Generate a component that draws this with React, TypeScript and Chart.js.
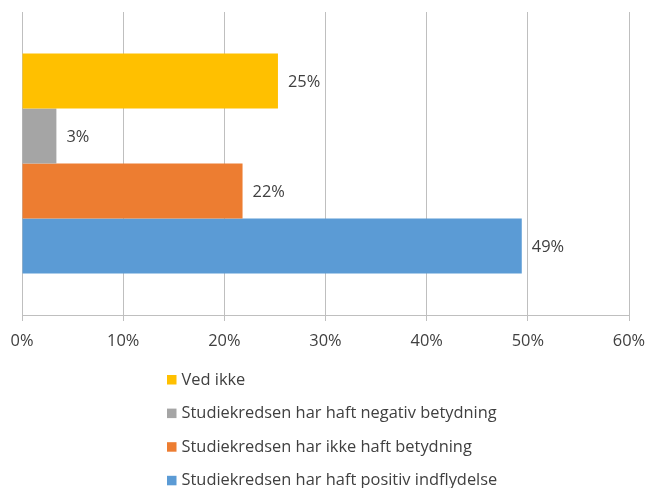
import React, { useEffect, useRef } from "react";
import { Chart, registerables } from "chart.js";

Chart.register(...registerables);

const categories = [""];
const seriesNames = [
  "Ved ikke",
  "Studiekredsen har haft negativ betydning",
  "Studiekredsen har ikke haft betydning",
  "Studiekredsen har haft positiv indflydelse",
];
const seriesValues = [25.3, 3.4, 21.8, 49.4];
const seriesLabels = ["25%", "3%", "22%", "49%"];
const seriesColors = ["#FFC000", "#A5A5A5", "#ED7D31", "#5B9BD5"];
const xTicks = [0, 10, 20, 30, 40, 50, 60];

const FONT = "'Open Sans', sans-serif";
const TEXT = "#404040";
const FS = 16.4;

const dataLabels = {
  id: "dataLabels",
  afterDatasetsDraw(chart: any) {
    const ctx = chart.ctx;
    ctx.save();
    ctx.font = `${FS}px ${FONT}`;
    ctx.fillStyle = TEXT;
    ctx.textBaseline = "middle";
    ctx.textAlign = "left";
    chart.data.datasets.forEach((ds: any, i: number) => {
      const meta = chart.getDatasetMeta(i);
      meta.data.forEach((el: any) => {
        ctx.fillText(seriesLabels[i], el.x + 10, el.y + 1);
      });
    });
    ctx.restore();
  },
};

const vLegend = {
  id: "vLegend",
  afterDraw(chart: any) {
    const ctx = chart.ctx;
    ctx.save();
    ctx.font = `${FS}px ${FONT}`;
    ctx.textBaseline = "middle";
    ctx.textAlign = "left";
    chart.data.datasets.forEach((ds: any, i: number) => {
      const top = 375 + i * 33.6;
      ctx.fillStyle = ds.backgroundColor;
      ctx.fillRect(167, top, 9.5, 9.5);
      ctx.fillStyle = TEXT;
      ctx.fillText(ds.label, 181.5, top + 5);
    });
    ctx.restore();
  },
};

export default function App() {
  const ref = useRef<HTMLCanvasElement>(null);
  useEffect(() => {
    if (!ref.current) return;
    const chart = new Chart(ref.current, {
      type: "bar",
      data: {
        labels: categories,
        datasets: seriesNames.map((name, i) => ({
          label: name,
          data: [seriesValues[i]],
          backgroundColor: seriesColors[i],
          borderWidth: 0,
          categoryPercentage: 0.726,
          barPercentage: 1,
        })),
      },
      options: {
        indexAxis: "y",
        animation: false,
        responsive: false,
        maintainAspectRatio: false,
        layout: { padding: { left: 22, right: 17, top: 12, bottom: 133 } },
        plugins: {
          legend: { display: false },
          tooltip: { enabled: false },
        },
        scales: {
          y: { display: false },
          x: {
            min: 0,
            max: 60,
            afterBuildTicks: (s: any) => {
              s.ticks = xTicks.map((v) => ({ value: v }));
            },
            afterFit: (s: any) => {
              s.height = 40;
              s.paddingLeft = 0;
              s.paddingRight = 0;
            },
            grid: {
              color: "#BFBFBF",
              tickLength: 6,
              lineWidth: 1,
            },
            border: { color: "#BFBFBF" },
            ticks: {
              padding: 10,
              color: TEXT,
              font: { family: FONT, size: FS },
              callback: (v: any) => `${v}%`,
              maxRotation: 0,
            },
          },
        },
      },
      plugins: [dataLabels, vLegend],
    });
    return () => chart.destroy();
  }, []);
  return (
    <div style={{ position: "fixed", left: 0, top: 0, width: 646, height: 488, background: "#fff" }}>
      <canvas ref={ref} width={646} height={488} />
    </div>
  );
}
